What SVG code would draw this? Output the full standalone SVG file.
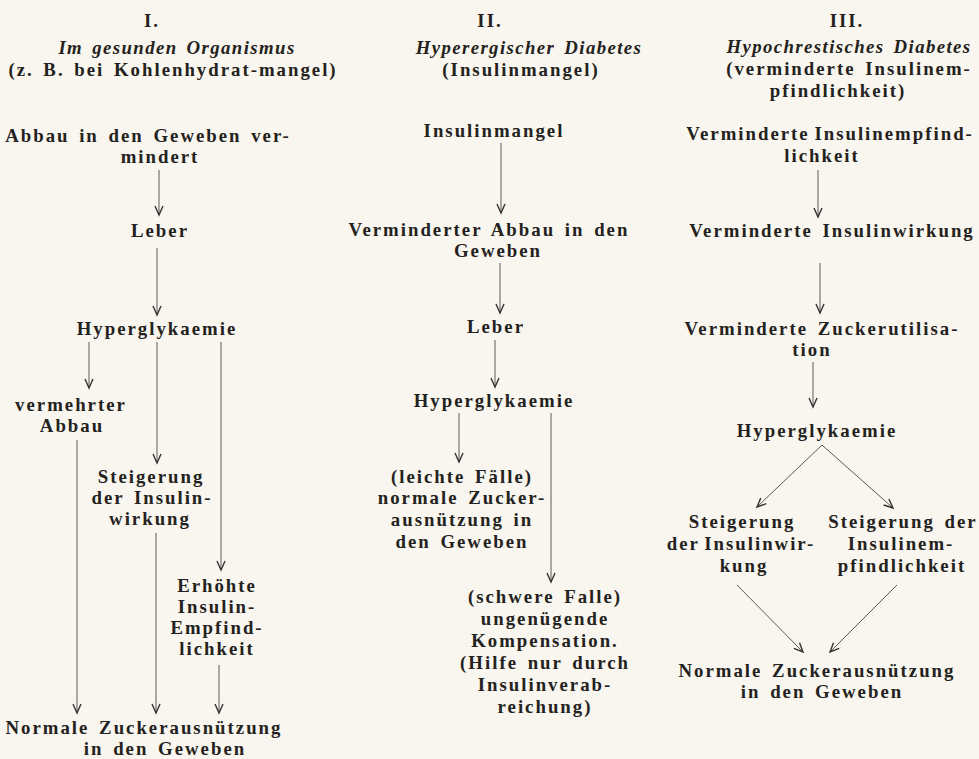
<svg xmlns="http://www.w3.org/2000/svg" width="979" height="759" viewBox="0 0 979 759">
<defs>
<style>
text{font-family:"Liberation Serif","Times New Roman",serif;font-weight:bold;font-size:18.8px;fill:#242220;letter-spacing:2px;word-spacing:3px;text-anchor:middle}
.it{font-style:italic;letter-spacing:1.4px}
.ln{stroke:#5a5a5a;stroke-width:1;fill:none;marker-end:url(#ah)}
</style>
<marker id="ah" markerUnits="userSpaceOnUse" viewBox="-10 -6 12 12" refX="0" refY="0" markerWidth="12" markerHeight="12" orient="auto">
<path d="M-9,-4 L0,0 L-9,4" fill="none" stroke="#333" stroke-width="1.4"/>
</marker>
</defs>
<rect width="979" height="759" fill="#f8f6ee"/>
<g id="col1-header">
<text x="152" y="27">I.</text>
<text class="it" x="177" y="54">Im gesunden Organismus</text>
<text x="173" y="76">(z. B. bei Kohlenhydrat-mangel)</text>
</g>
<g id="n1-abbau"><text x="148" y="142">Abbau in den Geweben ver-<tspan x="160" dy="21">mindert</tspan></text></g>
<g id="n1-leber"><text x="160" y="237">Leber</text></g>
<g id="n1-hyper"><text x="157" y="335">Hyperglykaemie</text></g>
<g id="n1-verm"><text x="71" y="411">vermehrter<tspan x="72" dy="21">Abbau</tspan></text></g>
<g id="n1-steig"><text x="151" y="483">Steigerung<tspan x="152" dy="21">der Insulin-</tspan><tspan x="150" dy="21">wirkung</tspan></text></g>
<g id="n1-erh"><text x="217" y="592">Erhöhte<tspan x="217" dy="21">Insulin-</tspan><tspan x="217" dy="21">Empfind-</tspan><tspan x="217" dy="21">lichkeit</tspan></text></g>
<g id="n1-normal"><text x="144" y="734">Normale Zuckerausnützung<tspan x="165" dy="21">in den Geweben</tspan></text></g>

<g id="col2-header">
<text x="490" y="27">II.</text>
<text class="it" x="529" y="54">Hyperergischer Diabetes</text>
<text x="521" y="76">(Insulinmangel)</text>
</g>
<g id="n2-insulinmangel"><text x="494" y="137">Insulinmangel</text></g>
<g id="n2-verm"><text x="489" y="236">Verminderter Abbau in den<tspan x="498" dy="21">Geweben</tspan></text></g>
<g id="n2-leber"><text x="496" y="333">Leber</text></g>
<g id="n2-hyper"><text x="494" y="407">Hyperglykaemie</text></g>
<g id="n2-leicht"><text x="462" y="483">(leichte Fälle)<tspan x="462" dy="21">normale Zucker-</tspan><tspan x="462" dy="22">ausnützung in</tspan><tspan x="462" dy="22">den Geweben</tspan></text></g>
<g id="n2-schwer"><text x="545" y="603">(schwere Falle)<tspan x="545" dy="22">ungenügende</tspan><tspan x="545" dy="22">Kompensation.</tspan><tspan x="545" dy="22">(Hilfe nur durch</tspan><tspan x="545" dy="22">Insulinverab-</tspan><tspan x="545" dy="22">reichung)</tspan></text></g>

<g id="col3-header">
<text x="847" y="27">III.</text>
<text class="it" x="849" y="53">Hypochrestisches Diabetes</text>
<text x="849" y="75">(verminderte Insulinem-<tspan x="838" dy="22">pfindlichkeit)</tspan></text>
</g>
<g id="n3-vie"><text x="830" y="140"><tspan style="word-spacing:-2px">Verminderte Insulinempfind-</tspan><tspan x="822" dy="22">lichkeit</tspan></text></g>
<g id="n3-viw"><text x="832" y="237">Verminderte Insulinwirkung</text></g>
<g id="n3-vzu"><text x="822" y="335">Verminderte Zuckerutilisa-<tspan x="812" dy="21">tion</tspan></text></g>
<g id="n3-hyper"><text x="817" y="437">Hyperglykaemie</text></g>
<g id="n3-steigw"><text x="742" y="528">Steigerung<tspan x="741" dy="22" style="word-spacing:-2px">der Insulinwir-</tspan><tspan x="744" dy="22">kung</tspan></text></g>
<g id="n3-steige"><text x="903" y="528">Steigerung der<tspan x="901" dy="22">Insulinem-</tspan><tspan x="902" dy="22">pfindlichkeit</tspan></text></g>
<g id="n3-normal"><text x="817" y="677">Normale Zuckerausnützung<tspan x="822" dy="21">in den Geweben</tspan></text></g>

<g id="connectors">
<line class="ln" x1="159" y1="170" x2="159" y2="215"/>
<line class="ln" x1="157" y1="248" x2="157" y2="315"/>
<line class="ln" x1="89" y1="342" x2="89" y2="388"/>
<line class="ln" x1="157" y1="342" x2="157" y2="463"/>
<line class="ln" x1="221" y1="342" x2="221" y2="570"/>
<line class="ln" x1="77" y1="440" x2="77" y2="713"/>
<line class="ln" x1="156" y1="533" x2="156" y2="713"/>
<line class="ln" x1="219" y1="665" x2="219" y2="713"/>
<line class="ln" x1="501" y1="143" x2="501" y2="213"/>
<line class="ln" x1="500" y1="263" x2="500" y2="313"/>
<line class="ln" x1="495" y1="340" x2="495" y2="387"/>
<line class="ln" x1="459" y1="413" x2="459" y2="462"/>
<line class="ln" x1="551" y1="413" x2="551" y2="582"/>
<line class="ln" x1="818" y1="170" x2="818" y2="217"/>
<line class="ln" x1="820" y1="263" x2="820" y2="313"/>
<line class="ln" x1="813" y1="362" x2="813" y2="407"/>
<line class="ln" x1="822" y1="445" x2="757" y2="507"/>
<line class="ln" x1="822" y1="445" x2="893" y2="508"/>
<line class="ln" x1="737" y1="585" x2="803" y2="652"/>
<line class="ln" x1="897" y1="585" x2="830" y2="652"/>
</g>
</svg>
